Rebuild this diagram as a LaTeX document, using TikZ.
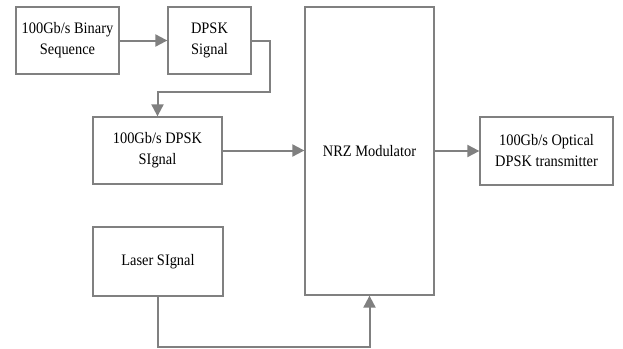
\documentclass[tikz,border=0pt]{standalone}
\usepackage{fontspec}
\setmainfont[FakeStretch=0.9]{Liberation Serif}
\usetikzlibrary{arrows.meta}
\definecolor{linegray}{RGB}{128,128,128}
\begin{document}
\begin{tikzpicture}[x=1pt,y=-1pt,
  blk/.style={draw=linegray,line width=1.3pt,rectangle,inner sep=0pt,align=center,
    font=\fontsize{16}{21}\selectfont,text=black},
  conn/.style={draw=linegray,line width=2pt,-{Triangle[length=12pt,width=12pt]}}]
\useasboundingbox (0,0) rectangle (623,348);
\node[blk,minimum width=103pt,minimum height=67pt] (b1) at (67.5,40.5) {100Gb/s Binary\\Sequence};
\node[blk,minimum width=83pt,minimum height=67pt] (b2) at (209.5,40.5) {DPSK\\Signal};
\node[blk,minimum width=129pt,minimum height=67pt] (b3) at (157.5,150.5) {100Gb/s DPSK\\SIgnal};
\node[blk,minimum width=129pt,minimum height=288pt] (nrz) at (369.5,151) {NRZ Modulator};
\node[blk,minimum width=133pt,minimum height=68pt] (opt) at (546.5,151) {100Gb/s Optical\\DPSK transmitter};
\node[blk,minimum width=130pt,minimum height=69pt] (laser) at (158,261.5) {Laser SIgnal};
\coordinate (c1) at (270,92);
\draw[conn] (b1) -- (b2);
\draw[conn] (b2.east) -| (c1) -- (c1 -| b3.north) -- (b3.north);
\draw[conn] (b3.east) -- (b3.east -| nrz.west);
\draw[conn] (nrz.east) -- (opt.west);
\draw[conn] (laser.south) -- ++(0,50) -| (nrz.south);
\end{tikzpicture}
\end{document}
